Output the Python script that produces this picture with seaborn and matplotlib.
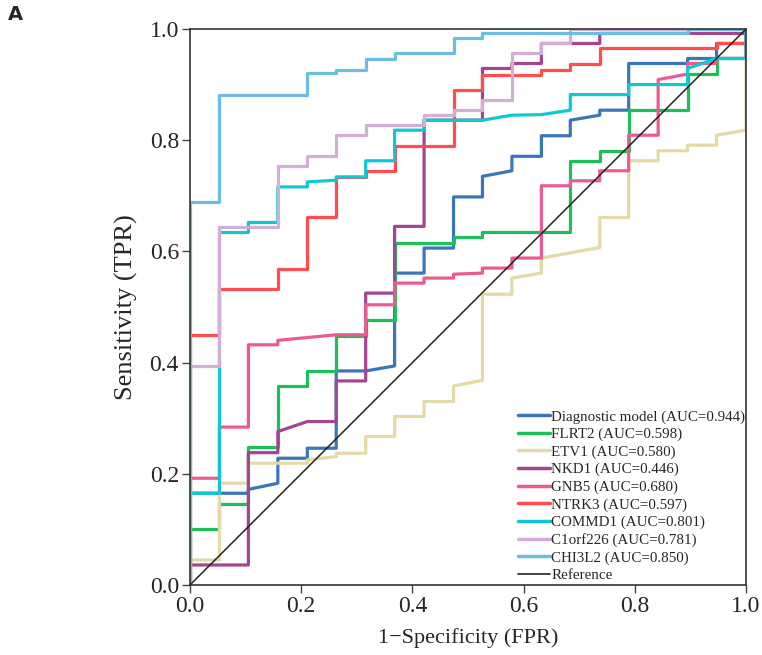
import numpy as np
import pandas as pd
import seaborn as sns
import matplotlib.pyplot as plt

# ROC curves, (FPR, TPR) vertices
diagnostic_pts = [(0, 0), (0, 0.165), (0.105, 0.165), (0.105, 0.172), (0.158, 0.183), (0.158, 0.228),
                  (0.211, 0.228), (0.211, 0.246), (0.263, 0.246), (0.263, 0.385), (0.316, 0.385),
                  (0.368, 0.394), (0.368, 0.561), (0.421, 0.561), (0.421, 0.606), (0.474, 0.606),
                  (0.474, 0.698), (0.526, 0.698), (0.526, 0.735), (0.579, 0.745), (0.579, 0.771),
                  (0.632, 0.771), (0.632, 0.808), (0.684, 0.808), (0.684, 0.836), (0.737, 0.845),
                  (0.737, 0.854), (0.789, 0.854), (0.789, 0.938), (0.895, 0.938), (0.895, 0.947),
                  (0.947, 0.947), (0.947, 0.974), (1, 0.974), (1, 1)]
flrt2_pts = [(0, 0), (0, 0.101), (0.053, 0.101), (0.053, 0.146), (0.105, 0.146), (0.105, 0.249),
             (0.158, 0.249), (0.158, 0.358), (0.211, 0.358), (0.211, 0.385), (0.263, 0.385),
             (0.263, 0.448), (0.316, 0.448), (0.316, 0.477), (0.368, 0.477), (0.368, 0.616),
             (0.474, 0.616), (0.474, 0.626), (0.526, 0.626), (0.526, 0.634), (0.684, 0.634),
             (0.684, 0.763), (0.737, 0.763), (0.737, 0.781), (0.789, 0.781), (0.789, 0.854),
             (0.895, 0.854), (0.895, 0.919), (0.947, 0.919), (0.947, 0.947), (1, 0.947), (1, 1)]
etv1_pts = [(0, 0), (0, 0.045), (0.053, 0.045), (0.053, 0.183), (0.105, 0.183), (0.105, 0.219),
            (0.211, 0.219), (0.211, 0.225), (0.263, 0.231), (0.263, 0.237), (0.316, 0.237),
            (0.316, 0.267), (0.368, 0.267), (0.368, 0.303), (0.421, 0.303), (0.421, 0.330),
            (0.474, 0.330), (0.474, 0.358), (0.526, 0.368), (0.526, 0.523), (0.579, 0.523),
            (0.579, 0.552), (0.632, 0.561), (0.632, 0.588), (0.737, 0.607), (0.737, 0.661),
            (0.789, 0.661), (0.789, 0.763), (0.842, 0.763), (0.842, 0.781), (0.895, 0.781),
            (0.895, 0.791), (0.947, 0.791), (0.947, 0.809), (1, 0.818), (1, 1)]
nkd1_pts = [(0, 0), (0, 0.036), (0.105, 0.036), (0.105, 0.238), (0.158, 0.238), (0.158, 0.276),
            (0.211, 0.294), (0.263, 0.294), (0.263, 0.367), (0.316, 0.367), (0.316, 0.525),
            (0.368, 0.525), (0.368, 0.645), (0.421, 0.645), (0.421, 0.836), (0.526, 0.836),
            (0.526, 0.929), (0.579, 0.929), (0.579, 0.938), (0.632, 0.938), (0.632, 0.974),
            (0.737, 0.974), (0.737, 0.992), (1, 0.992), (1, 1)]
gnb5_pts = [(0, 0), (0, 0.192), (0.053, 0.192), (0.053, 0.284), (0.105, 0.284), (0.105, 0.432),
            (0.158, 0.432), (0.158, 0.440), (0.263, 0.450), (0.316, 0.450), (0.316, 0.504),
            (0.368, 0.504), (0.368, 0.543), (0.421, 0.543), (0.421, 0.552), (0.474, 0.552),
            (0.474, 0.559), (0.526, 0.561), (0.526, 0.570), (0.579, 0.570), (0.579, 0.588),
            (0.632, 0.588), (0.632, 0.718), (0.684, 0.718), (0.684, 0.727), (0.737, 0.727),
            (0.737, 0.745), (0.789, 0.745), (0.789, 0.809), (0.842, 0.809), (0.842, 0.909),
            (0.895, 0.919), (0.895, 0.938), (0.947, 0.938), (0.947, 0.947), (1, 0.947), (1, 1)]
ntrk3_pts = [(0, 0), (0, 0.450), (0.053, 0.450), (0.053, 0.532), (0.158, 0.532), (0.158, 0.569),
             (0.211, 0.569), (0.211, 0.662), (0.263, 0.662), (0.263, 0.734), (0.316, 0.734),
             (0.316, 0.745), (0.368, 0.745), (0.368, 0.790), (0.474, 0.790), (0.474, 0.890),
             (0.526, 0.890), (0.526, 0.917), (0.632, 0.917), (0.632, 0.927), (0.684, 0.927),
             (0.684, 0.937), (0.737, 0.937), (0.737, 0.965), (0.947, 0.965), (0.947, 0.974),
             (1, 0.974), (1, 1)]
commd1_pts = [(0, 0), (0, 0.165), (0.053, 0.165), (0.053, 0.634), (0.105, 0.634), (0.105, 0.652),
              (0.158, 0.652), (0.158, 0.716), (0.211, 0.716), (0.211, 0.725), (0.263, 0.728),
              (0.263, 0.734), (0.316, 0.734), (0.316, 0.763), (0.368, 0.763), (0.368, 0.818),
              (0.421, 0.818), (0.421, 0.836), (0.526, 0.836), (0.579, 0.845), (0.632, 0.846),
              (0.684, 0.854), (0.684, 0.882), (0.789, 0.882), (0.789, 0.900), (0.895, 0.900),
              (0.895, 0.929), (0.947, 0.947), (1, 0.947), (1, 1)]
c1orf226_pts = [(0, 0), (0, 0.394), (0.053, 0.394), (0.053, 0.643), (0.158, 0.643), (0.158, 0.754),
                (0.211, 0.754), (0.211, 0.771), (0.263, 0.771), (0.263, 0.809), (0.316, 0.809),
                (0.316, 0.828), (0.421, 0.828), (0.421, 0.846), (0.474, 0.846), (0.474, 0.855),
                (0.526, 0.855), (0.526, 0.873), (0.579, 0.873), (0.579, 0.956), (0.632, 0.956),
                (0.632, 0.974), (0.684, 0.974), (0.684, 1), (1, 1)]
chi3l2_pts = [(0, 0), (0, 0.689), (0.053, 0.689), (0.053, 0.881), (0.211, 0.881), (0.211, 0.920),
              (0.263, 0.920), (0.263, 0.927), (0.316, 0.927), (0.316, 0.946), (0.368, 0.946),
              (0.368, 0.956), (0.474, 0.956), (0.474, 0.983), (0.526, 0.983), (0.526, 0.992),
              (0.895, 0.992), (0.895, 1), (1, 1)]

names = ["Diagnostic model", "FLRT2", "ETV1", "NKD1", "GNB5", "NTRK3", "COMMD1", "C1orf226", "CHI3L2"]
aucs = [0.944, 0.598, 0.580, 0.446, 0.680, 0.597, 0.801, 0.781, 0.850]
curves = [diagnostic_pts, flrt2_pts, etv1_pts, nkd1_pts, gnb5_pts, ntrk3_pts,
          commd1_pts, c1orf226_pts, chi3l2_pts]
colors = ["#3A76BA", "#1DBF5B", "#E4D9A8", "#A3458F", "#EC5A92", "#FF4D50",
          "#10C8D4", "#D3AED6", "#6CBDE2"]

rows = []
for name, auc, pts in zip(names, aucs, curves):
    lab = f"{name} (AUC={auc:.3f})"
    for i, (fx, ty) in enumerate(pts):
        rows.append({"fpr": fx, "tpr": ty, "model": lab, "step": i})
df = pd.DataFrame(rows)
labels = [f"{n} (AUC={a:.3f})" for n, a in zip(names, aucs)]

sns.set_style("ticks")
plt.rcParams['font.family'] = ['Liberation Serif', 'DejaVu Serif']

fig = plt.figure(figsize=(7.62, 6.55), dpi=100)
ax = fig.add_axes([190 / 762, 70 / 655, 556 / 762, 556 / 655])

sns.lineplot(data=df, x="fpr", y="tpr", hue="model", hue_order=labels,
             palette=dict(zip(labels, colors)), sort=False, estimator=None,
             linewidth=2.3, ax=ax, legend=False)
ax.plot([0, 1], [0, 1], color="#222222", linewidth=1.1, zorder=5)

ax.set_xlim(0, 1)
ax.set_ylim(0, 1)
ticks = [0.0, 0.2, 0.4, 0.6, 0.8, 1.0]
ax.set_xticks(ticks)
ax.set_yticks(ticks)
ax.set_xticklabels([f"{t:.1f}" for t in ticks])
ax.set_yticklabels([f"{t:.1f}" for t in ticks])
ax.tick_params(labelsize=17, length=6, width=1, color="#444444", pad=2)
for s in ax.spines.values():
    s.set_visible(True)
    s.set_color("#333333")
    s.set_linewidth(1.2)

ax.set_xlabel("1\u2212Specificity (FPR)", fontsize=16, labelpad=8)
ax.set_ylabel("Sensitivity (TPR)", fontsize=19, labelpad=8)

handles = [plt.Line2D([], [], color=c, linewidth=2.5) for c in colors]
handles.append(plt.Line2D([], [], color="#222222", linewidth=1.2))
ax.legend(handles, labels + ["Reference"], loc="lower right", bbox_to_anchor=(1.004, 0.0),
          frameon=False, fontsize=10.8, handlelength=2.1, handletextpad=0.1,
          labelspacing=0.26, borderpad=0.2, borderaxespad=0.0)

fig.text(8 / 762, 1 - 14 / 655, "A", fontsize=14, fontweight="bold",
         family="DejaVu Sans", va="center", ha="left")

fig.savefig("out.png", dpi=100)
